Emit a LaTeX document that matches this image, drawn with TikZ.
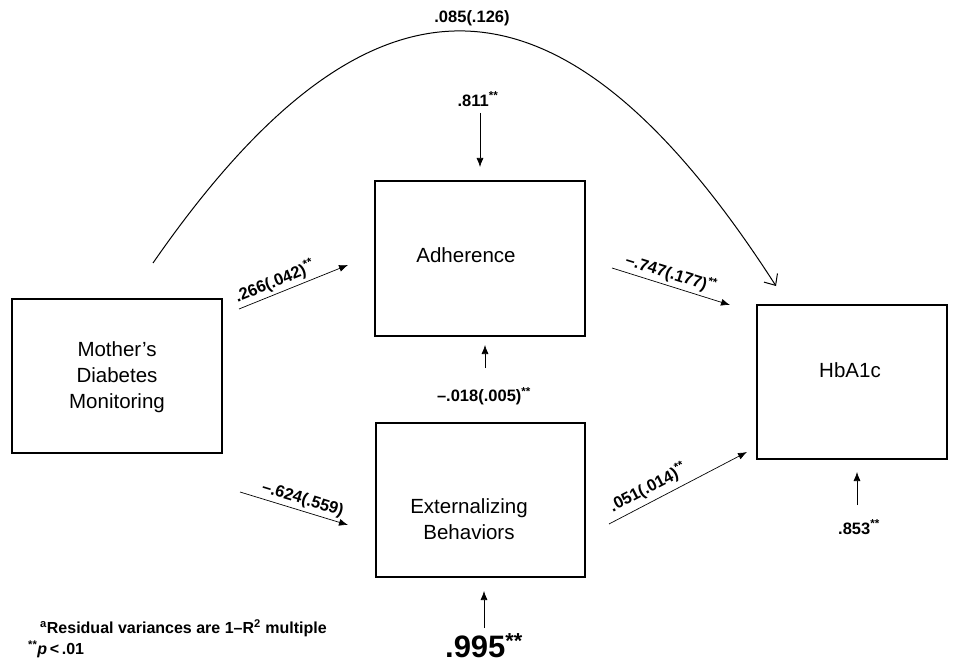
\documentclass[tikz,border=0pt]{standalone}
\usepackage{fontspec}
\setmainfont{Liberation Sans}
\usetikzlibrary{arrows.meta}
\newcommand{\sig}{\textsuperscript{**}}
\tikzset{
  varbox/.style={draw, line width=1.3pt, inner sep=0pt},
  path/.style={line width=0.7pt, -{Latex[length=9pt,width=7pt]}},
  coef/.style={font=\fontsize{16.5}{19}\selectfont\bfseries, inner sep=2pt},
  boxtext/.style={font=\fontsize{20.5}{26}\selectfont, align=center},
  notetext/.style={font=\fontsize{16}{19}\selectfont\bfseries, anchor=west, inner sep=0pt}
}
\begin{document}
\begin{tikzpicture}[x=1pt, y=-1pt]
  \useasboundingbox (0,0) rectangle (956,663);
  % boxes
  \draw[varbox] (12,299) rectangle (222,453);
  \node[boxtext] (mother) at (117,377) {Mother's\\Diabetes\\Monitoring};
  \draw[varbox] (375,181) rectangle (585,336);
  \node[boxtext] (adh) at (466,255) {Adherence};
  \draw[varbox] (376,423) rectangle (585,577);
  \node[boxtext] (ext) at (469,519) {Externalizing\\Behaviors};
  \draw[varbox] (757,305) rectangle (947,459);
  \node[boxtext] (hba) at (850,370) {HbA1c};
  % paths
  \coordinate (ma1) at (239,309);  \coordinate (ma2) at (348,265);
  \coordinate (ah1) at (612,268);  \coordinate (ah2) at (730,305);
  \coordinate (me1) at (240,492);  \coordinate (me2) at (348,525);
  \coordinate (eh1) at (609,524);  \coordinate (eh2) at (747,452);
  \draw[path] (ma1) -- node[coef, sloped, above=1pt, pos=0.37] {.266(.042)\sig} (ma2);
  \draw[path] (ah1) -- node[coef, sloped, above=1pt, pos=0.47] {\textendash.747(.177)\sig} (ah2);
  \draw[path] (me1) -- node[coef, sloped, above=1pt, pos=0.55] {\textendash.624(.559)} (me2);
  \draw[path] (eh1) -- node[coef, sloped, above=3pt, pos=0.33] {.051(.014)\sig} (eh2);
  % direct path
  \coordinate (d1) at (153,263);  \coordinate (d2) at (776,286);
  \draw[line width=1pt, -{Straight Barb[length=9pt,width=16pt]}] (d1) .. controls (370,-50) and (560,-50) .. (d2);
  \node[coef] (direct) at (472,18) {.085(.126)};
  % residuals
  \coordinate (r1) at (480,113);  \coordinate (r1e) at (480,167);
  \draw[path] (r1) -- (r1e);
  \node[coef] (res1) at (478,99) {.811\sig};
  \coordinate (r2) at (485,368);  \coordinate (r2e) at (485,345);
  \draw[path] (r2) -- (r2e);
  \node[coef] (res2) at (484,396) {\textendash.018(.005)\sig};
  \coordinate (r3) at (484,628);  \coordinate (r3e) at (484,591);
  \draw[path] (r3) -- (r3e);
  \node[coef, font=\fontsize{31}{33}\selectfont\bfseries] (res3) at (484,646) {.995\sig};
  \coordinate (r4) at (857,505);  \coordinate (r4e) at (857,472);
  \draw[path] (r4) -- (r4e);
  \node[coef] (res4) at (859,527) {.853\sig};
  % note
  \node[notetext] (note1) at (40,628) {\textsuperscript{a}Residual variances are 1\textendash R\textsuperscript{2} multiple};
  \node[notetext] (note2) at (28,649) {\sig\textit{p}\,<\,.01};
\end{tikzpicture}
\end{document}
